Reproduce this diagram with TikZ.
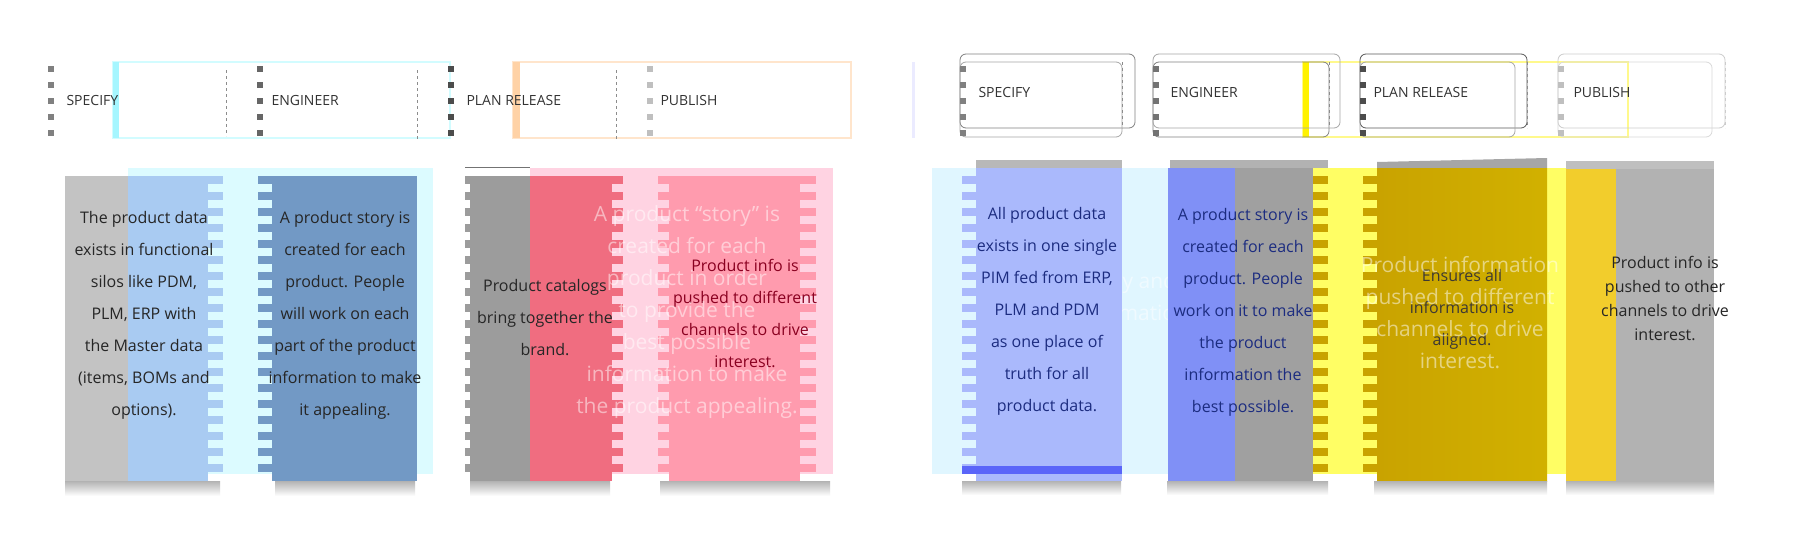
\documentclass[tikz,border=0pt]{standalone}
\usepackage{fontspec}
\setmainfont{Open Sans}
\usetikzlibrary{positioning,shapes}
\definecolor{grayA}{HTML}{C3C3C3}
\definecolor{lblue}{HTML}{A9CBF2}
\definecolor{cyanbg}{HTML}{DCFBFF}
\definecolor{cyanedge}{HTML}{D2FCFF}
\definecolor{cyanthick}{HTML}{A6F6FF}
\definecolor{steel}{HTML}{7299C5}
\definecolor{grayB}{HTML}{9C9C9C}
\definecolor{redc}{HTML}{F06D80}
\definecolor{pinkbg}{HTML}{FFD3E2}
\definecolor{pinkc}{HTML}{FF9BAE}
\definecolor{rcyan}{HTML}{E0F6FF}
\definecolor{rblue}{HTML}{AAB9FC}
\definecolor{rblueB}{HTML}{8090F6}
\definecolor{rgray}{HTML}{A0A0A0}
\definecolor{yel}{HTML}{FFFE64}
\definecolor{gold}{HTML}{C9A300}
\definecolor{goldlt}{HTML}{F2CD2C}
\definecolor{navy}{HTML}{1C2C80}
\definecolor{darkred}{HTML}{8A0020}
\tikzset{
   coltext/.style={align=center, text=black!85, font=\fontsize{16}{32}\selectfont},
   fadedtext/.style={align=center, text=white, text opacity=0.5, font=\fontsize{21}{32}\selectfont},
   tablabel/.style={anchor=west, text=black!80, font=\fontsize{14}{14}\selectfont},
   shadowbar/.style={top color=black!30, bottom color=white, draw=none},
   tabbox/.style={draw=black!50, rounded corners=6pt, thick}
}
\tikzstyle{sep} = [draw=black!45, dashed, thick]
\newcommand{\teethcol}[3]{\foreach \ty in {176,192,...,466}{\fill[#3] (#1,\ty) rectangle (#2,\ty+8);}}
\newcommand{\tabmarks}[2]{\foreach \my in {66,82,...,130}{\fill[#2] (#1,\my) rectangle ++(6,6);}}

\begin{document}
\begin{tikzpicture}[x=1pt,y=-1pt]
\useasboundingbox (0,0) rectangle (1804,554);
\fill[white] (0,0) rectangle (1804,554);

% left header row
\draw[cyanedge, line width=1.5pt] (113,62) rectangle (450,138);
\fill[cyanthick] (113,62) rectangle (119,138);
\draw[orange!20, line width=1.5pt] (513,62) rectangle (851,138);
\fill[orange!35] (513,62) rectangle (520,138);
\draw[sep] (226,70) -- (226,136);
\draw[sep] (417,70) -- (417,140);
\draw[sep] (616,70) -- (616,140);
\tabmarks{48}{black!50}
\tabmarks{257}{black!60}
\tabmarks{448}{black!70}
\tabmarks{647}{black!25}
\node[tablabel] (tSpecA) at (63,100) {SPECIFY};
\node[tablabel] (tEngA) at (268,100) {ENGINEER};
\node[tablabel] (tPlanA) at (463,100) {PLAN RELEASE};
\node[tablabel] (tPubA) at (657,100) {PUBLISH};

% right header row
\draw[blue!8, line width=3pt] (913,62) -- (913,138);
\draw[yellow!45, line width=1.5pt] (1303,62) rectangle (1628,137);
\fill[yellow] (1303,62) rectangle (1309,137);
\draw[tabbox] (960,54) rectangle (1135,128);
\draw[tabbox, draw=black!35] (960,62) rectangle (1122,137);
\draw[tabbox] (1153,62) rectangle (1329,137);
\draw[tabbox, draw=black!35] (1153,54) rectangle (1340,128);
\draw[tabbox, draw=black!65] (1360,54) rectangle (1527,128);
\draw[tabbox, draw=black!35] (1360,62) rectangle (1515,137);
\draw[tabbox, draw=black!20] (1558,54) rectangle (1725,128);
\draw[tabbox, draw=black!15] (1558,62) rectangle (1712,137);
\draw[sep] (1122,62) -- (1122,128);
\draw[sep] (1329,62) -- (1329,128);
\draw[sep] (1527,62) -- (1527,128);
\draw[sep, draw=black!20] (1725,62) -- (1725,128);
\tabmarks{960}{black!50}
\tabmarks{1153}{black!55}
\tabmarks{1360}{black!70}
\tabmarks{1558}{black!25}
\node[tablabel] (tSpecB) at (975,92) {SPECIFY};
\node[tablabel] (tEngB) at (1167,92) {ENGINEER};
\node[tablabel] (tPlanB) at (1370,92) {PLAN RELEASE};
\node[tablabel] (tPubB) at (1570,92) {PUBLISH};

% left body
\fill[cyanbg] (128,168) rectangle (433,474);
\fill[pinkbg] (530,168) rectangle (833,474);
\fill[grayA] (65,176) rectangle (128,481);
\fill[lblue] (128,176) rectangle (208,481);
\teethcol{208}{223}{lblue}
\fill[steel] (272,176) rectangle (417,481);
\teethcol{258}{272}{steel}
\fill[grayB] (470,176) rectangle (530,481);
\teethcol{465}{470}{grayB}
\draw[black!55, thick] (465,167) -- (530,167);
\fill[redc] (530,176) rectangle (612,481);
\teethcol{612}{623}{redc}
\fill[pinkc] (669,176) rectangle (800,481);
\teethcol{658}{669}{pinkc}
\teethcol{800}{816}{pinkc}
\shade[shadowbar] (65,481) rectangle (220,496);
\shade[shadowbar] (275,481) rectangle (415,496);
\shade[shadowbar] (470,481) rectangle (610,496);
\shade[shadowbar] (660,481) rectangle (830,496);

\node[coltext] (dataA) at (144,315) {The product data\\exists in functional\\silos like PDM,\\PLM, ERP with\\the Master data\\(items, BOMs and\\options).};
\node[coltext] (storyA) at (345,315) {A product story is\\created for each\\product. People\\will work on each\\part of the product\\information to make\\it appealing.};
\node[coltext] (catA) at (545,318) {Product catalogs\\bring together the\\brand.};
\node[coltext, text=darkred] (pushA) at (745,313) {Product info is\\pushed to different\\channels to drive\\interest.};
\node[fadedtext] (fadeA) at (687,312) {A product “story” is\\created for each\\product in order\\to provide the\\best possible\\information to make\\the product appealing.};

% right body
\fill[rcyan] (932,168) rectangle (1311,474);
\node[fadedtext] (fadeB) at (1130,297) {story and\\information};
\fill[yel] (1311,168) rectangle (1622,474);
\fill[black!28] (976,160) rectangle (1122,168);
\fill[rblue] (976,168) rectangle (1122,481);
\teethcol{962}{976}{rblue}
\fill[rblueB!70!blue] (962,466) rectangle (1122,474);
\fill[black!30] (1170,160) rectangle (1328,168);
\fill[rblueB] (1168,168) rectangle (1235,481);
\fill[rgray] (1235,168) rectangle (1313,481);
\teethcol{1313}{1328}{gold}
\fill[black!35] (1377,162) -- (1547,158) -- (1547,168) -- (1377,168) -- cycle;
\shade[left color=gold, right color=gold!85!yellow] (1377,168) rectangle (1547,481);
\teethcol{1363}{1377}{gold}
\fill[black!25] (1566,161) rectangle (1714,169);
\fill[goldlt] (1566,169) rectangle (1616,481);
\fill[black!30] (1616,169) rectangle (1714,481);
\shade[shadowbar] (962,481) rectangle (1121,495);
\shade[shadowbar] (1167,481) rectangle (1328,495);
\shade[shadowbar] (1374,481) rectangle (1547,495);
\shade[shadowbar] (1566,481) rectangle (1714,495);

\node[coltext, text=navy] (dataB) at (1047,311) {All product data\\exists in one single\\PIM fed from ERP,\\PLM and PDM\\as one place of\\truth for all\\product data.};
\node[coltext, text=navy] (storyB) at (1243,312) {A product story is\\created for each\\product. People\\work on it to make\\the product\\information the\\best possible.};
\node[coltext, text=black!80!yellow!60!black] (catB) at (1462,309) {Ensures all\\information is\\aligned.};
\node[fadedtext] (fadeC) at (1460,313) {Product information\\pushed to different\\channels to drive\\interest.};
\node[coltext, font=\fontsize{16}{24}\selectfont] (pushB) at (1665,298) {Product info is\\pushed to other\\channels to drive\\interest.};
\end{tikzpicture}
\end{document}
